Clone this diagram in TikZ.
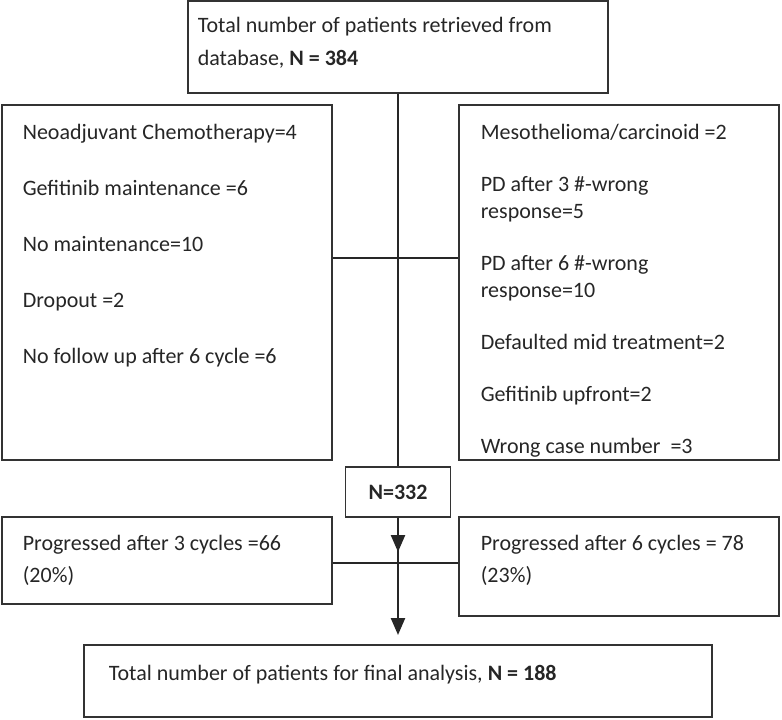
\documentclass[tikz,border=0pt]{standalone}
\usepackage{fontspec}
\setmainfont{Carlito}
\usetikzlibrary{fit,arrows.meta}

\begin{document}
\begin{tikzpicture}[x=0.5pt,y=-0.5pt,thick]
    % `frame' is used for the boxes, `entry' for the text set in them.
    % `trunk' is the middle line, `flow' the arrows on it.
    \tikzstyle{frame} = [draw=black!80,line width=0.9pt,inner sep=0pt]
    \tikzstyle{entry} = [inner sep=0pt,anchor=north west,align=left,text=black!85,font=\fontsize{11}{13.5}\selectfont]
    \tikzstyle{trunk} = [draw=black!85,line width=1.2pt]
    \tikzstyle{flow} = [trunk,-{Triangle[width=7pt,length=8.5pt]}]
    \useasboundingbox (0,0) rectangle (782,719);
    %
    % Boxes.
    \node[frame,fit={(188,1) (608,93)}] (total) {};
    \node[frame,fit={(2,105) (332,460)}] (exclA) {};
    \node[frame,fit={(459,105) (779,460)}] (exclB) {};
    \node[frame,fit={(345.5,467) (450.5,517)}] (count) {};
    \node[frame,fit={(2,517) (332,604)}] (progA) {};
    \node[frame,fit={(459,517) (779,616)}] (progB) {};
    \node[frame,fit={(84,645) (712,717)}] (final) {};
    %
    % Texts.
    \node[entry] (totaltext) at (197,16) {Total number of patients retrieved from\\[3pt]
      database, \textbf{N = 384}};
    \node[entry] (exclAtext) at (22,123) {Neoadjuvant Chemotherapy=4\\[14.5pt]
      Gefitinib maintenance =6\\[14.5pt]
      No maintenance=10\\[14.5pt]
      Dropout =2\\[14.5pt]
      No follow up after 6 cycle =6};
    \node[entry] (exclBtext) at (480,123) {Mesothelioma/carcinoid =2\\[12.5pt]
      PD after 3 \#-wrong\\
      response=5\\[12.5pt]
      PD after 6 \#-wrong\\
      response=10\\[12.5pt]
      Defaulted mid treatment=2\\[12.5pt]
      Gefitinib upfront=2\\[12.5pt]
      Wrong case number~~=3};
    \node[font=\fontsize{11}{13}\selectfont\bfseries,text=black!85] (counttext) at (count) {N=332};
    \node[entry] (progAtext) at (22,534) {Progressed after 3 cycles =66\\[2.5pt]
      (20\%)};
    \node[entry] (progBtext) at (480,534) {Progressed after 6 cycles = 78\\[2.5pt]
      (23\%)};
    \node[entry] (finaltext) at (108,664) {Total number of patients for final analysis, \textbf{N = 188}};
    %
    % Lines.
    \coordinate (split) at (398,258);
    \coordinate (progsplit) at (398,563);
    \coordinate (midtip) at (398,552);
    \coordinate (endtip) at (398,635);
    \draw[trunk] (total.south) -- (count.north);
    \draw[trunk] (exclA.east |- split) -- (exclB.west |- split);
    \draw[trunk] (progA.east |- progsplit) -- (progB.west |- progsplit);
    \draw[flow] (count.south) -- (midtip);
    \draw[flow] (count.south) -- (endtip);
\end{tikzpicture}
\end{document}
